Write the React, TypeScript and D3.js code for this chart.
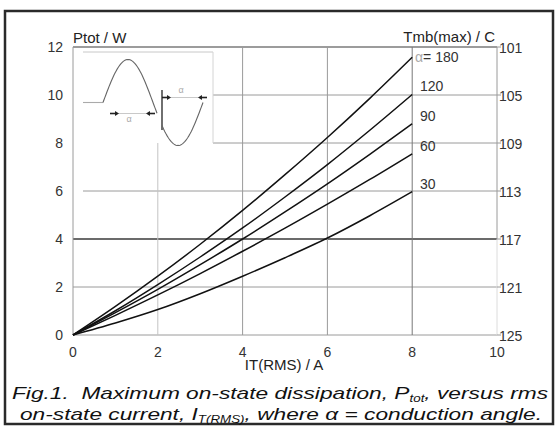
import React from 'react';
import * as d3 from 'd3';

// on-state current IT(RMS) / A
const current = [0, 1, 2, 3, 4, 5, 6, 7, 8];

// Ptot / W, one array per conduction angle
const p180 = [0, 1.19, 2.45, 3.78, 5.19, 6.68, 8.23, 9.86, 11.57];
const p120 = [0, 1.01, 2.1, 3.25, 4.46, 5.75, 7.1, 8.53, 10.02];
const p90 = [0, 0.93, 1.9, 2.93, 4.0, 5.13, 6.3, 7.53, 8.8];
const p60 = [0, 0.82, 1.67, 2.56, 3.49, 4.45, 5.45, 6.48, 7.55];
const p30 = [0, 0.5, 1.06, 1.72, 2.45, 3.22, 4.04, 4.97, 5.97];

const angles = ['180', '120', '90', '60', '30'];
const series = [p180, p120, p90, p60, p30];

const xTicks = [0, 2, 4, 6, 8, 10];
const yTicks = [0, 2, 4, 6, 8, 10, 12];
const tmbTicks = ['125', '121', '117', '113', '109', '105', '101'];

const W = 560;
const H = 435;
const FONT = 'Liberation Sans, Arial, sans-serif';

const x = d3.scaleLinear().domain([0, 10]).range([73, 497]);
const y = d3.scaleLinear().domain([0, 12]).range([335, 47]);

const GRID = '#9a9a9a';
const DARK = '#3a3a3a';

const App: React.FC = () => {
  const line = d3
    .line<number>()
    .x((_, i) => x(current[i]))
    .y((d) => y(d))
    .curve(d3.curveMonotoneX);

  // inset: sketch of the phase-controlled sine
  const base = 102.5;
  const amp = 43;
  const sx0 = 103;
  const period = 100;
  const sine = (from: number, to: number) => {
    const pts: [number, number][] = d3
      .range(from, to + 0.01, 1)
      .map((px) => [px, base - amp * Math.sin(((px - sx0) / period) * 2 * Math.PI)]);
    return d3.line()(pts) as string;
  };

  const arrow = (x1: number, x2: number, yy: number) => (
    <g stroke="#222" fill="#222">
      <line x1={x1} x2={x2} y1={yy} y2={yy} strokeWidth={0.8} stroke="#bbb" />
      <line x1={x1} x2={x1 + 6} y1={yy} y2={yy} strokeWidth={1.6} />
      <line x1={x2 - 6} x2={x2} y1={yy} y2={yy} strokeWidth={1.6} />
      <path d={`M${x1 + 9},${yy} l-4,-2.5 v5 z`} stroke="none" />
      <path d={`M${x2 - 9},${yy} l4,-2.5 v5 z`} stroke="none" />
    </g>
  );

  return (
    <svg
      width={W}
      height={H}
      style={{ position: 'absolute', left: 0, top: 0, background: '#fff' }}
      fontFamily={FONT}
    >
      <rect x={5} y={11} width={548} height={413} fill="#fff" stroke="#2a2a2a" strokeWidth={2.5} />

      {/* horizontal grid */}
      <line x1={x(0)} x2={x(10)} y1={y(12)} y2={y(12)} stroke={DARK} strokeWidth={1.2} />
      <line x1={213} x2={x(10)} y1={y(10)} y2={y(10)} stroke={GRID} />
      <line x1={213} x2={x(10)} y1={y(8)} y2={y(8)} stroke={GRID} />
      <line x1={83} x2={x(10)} y1={y(6)} y2={y(6)} stroke={GRID} />
      <line x1={x(0)} x2={x(10)} y1={y(4)} y2={y(4)} stroke={DARK} strokeWidth={1.3} />
      <line x1={x(0)} x2={x(10)} y1={y(2)} y2={y(2)} stroke={GRID} />
      <line x1={x(0)} x2={x(10)} y1={y(0)} y2={y(0)} stroke={GRID} />

      {/* vertical grid */}
      <line x1={x(0)} x2={x(0)} y1={y(12)} y2={y(0)} stroke={GRID} />
      <line x1={x(2)} x2={x(2)} y1={143} y2={y(0)} stroke="#c4c4c4" />
      <line x1={x(4)} x2={x(4)} y1={y(12)} y2={y(0)} stroke={GRID} />
      <line x1={x(6)} x2={x(6)} y1={y(12)} y2={y(0)} stroke={GRID} />
      <line x1={x(8)} x2={x(8)} y1={y(12)} y2={y(0)} stroke="#777" />
      <line x1={x(10)} x2={x(10)} y1={y(12)} y2={y(4)} stroke={GRID} />
      <line x1={x(10)} x2={x(10)} y1={y(4)} y2={y(0)} stroke="#dcdcdc" />

      {/* inset frame */}
      <line x1={83} x2={213} y1={52} y2={52} stroke="#c8c8c8" />
      <line x1={213} x2={213} y1={52} y2={143} stroke="#d4d4d4" />

      {/* inset waveform */}
      <g fill="none" stroke="#666" strokeWidth={1.1}>
        <line x1={83} x2={sx0} y1={base} y2={base} stroke="#aaa" />
        <path d={sine(sx0, 157)} />
        <line x1={162} x2={162} y1={90} y2={130} stroke="#333" strokeWidth={1.4} />
        <path d={sine(162, 203)} />
      </g>
      {arrow(110, 155, 113.5)}
      {arrow(162, 207, 97.5)}
      <text x={129} y={122} fontSize={9} fill="#aaa" textAnchor="middle">α</text>
      <text x={181} y={93} fontSize={9} fill="#aaa" textAnchor="middle">α</text>

      {/* curves */}
      <g fill="none" stroke="#111" strokeWidth={1.5}>
        {series.map((s, i) => (
          <path key={angles[i]} d={line(s) as string} />
        ))}
      </g>

      {/* curve labels */}
      <g fontSize={14} fill="#333">
        {series.map((s, i) => (
          <text key={angles[i]} x={i === 0 ? 415 : 420} y={y(s[s.length - 1]) - (i === 0 ? 0 : 8)} dy="0.35em">
            {i === 0 ? (
              <>
                <tspan fill="#aaa">α</tspan>= {angles[i]}
              </>
            ) : (
              angles[i]
            )}
          </text>
        ))}
      </g>

      {/* left axis */}
      <g fontSize={14} fill="#333" textAnchor="end">
        {yTicks.map((t) => (
          <text key={t} x={63} y={y(t)} dy="0.35em">
            {t}
          </text>
        ))}
      </g>

      {/* right axis */}
      <g fontSize={14} fill="#333">
        {tmbTicks.map((t, i) => (
          <g key={t}>
            <line x1={x(10)} x2={x(10) + 4} y1={y(yTicks[i])} y2={y(yTicks[i])} stroke={GRID} />
            <text x={499} y={y(yTicks[i]) + 1} dy="0.35em">
              {t}
            </text>
          </g>
        ))}
      </g>

      {/* bottom axis */}
      <g fontSize={14} fill="#333" textAnchor="middle">
        {xTicks.map((t) => (
          <text key={t} x={x(t)} y={352} dy="0.35em">
            {t}
          </text>
        ))}
      </g>

      <text x={73} y={43} fontSize={15} fill="#222">Ptot / W</text>
      <text x={495} y={42} fontSize={15} fill="#222" textAnchor="end">Tmb(max) / C</text>
      <text x={284} y={370} fontSize={15} fill="#222" textAnchor="middle">IT(RMS) / A</text>

      {/* caption */}
      <g fontSize={17} fontStyle="italic" fill="#111">
        <text x={12} y={399} textLength={536} lengthAdjust="spacingAndGlyphs">
          Fig.1.{'\u00a0\u00a0'}Maximum on-state dissipation, P
          <tspan fontSize={10} dy={2.5}>tot</tspan>
          <tspan dy={-2.5}>, versus rms</tspan>
        </text>
        <text x={20} y={420} textLength={522} lengthAdjust="spacingAndGlyphs">
          on-state current, I
          <tspan fontSize={10} dy={2.5}>T(RMS)</tspan>
          <tspan dy={-2.5}>, where α = conduction angle.</tspan>
        </text>
      </g>
    </svg>
  );
};

export default App;
